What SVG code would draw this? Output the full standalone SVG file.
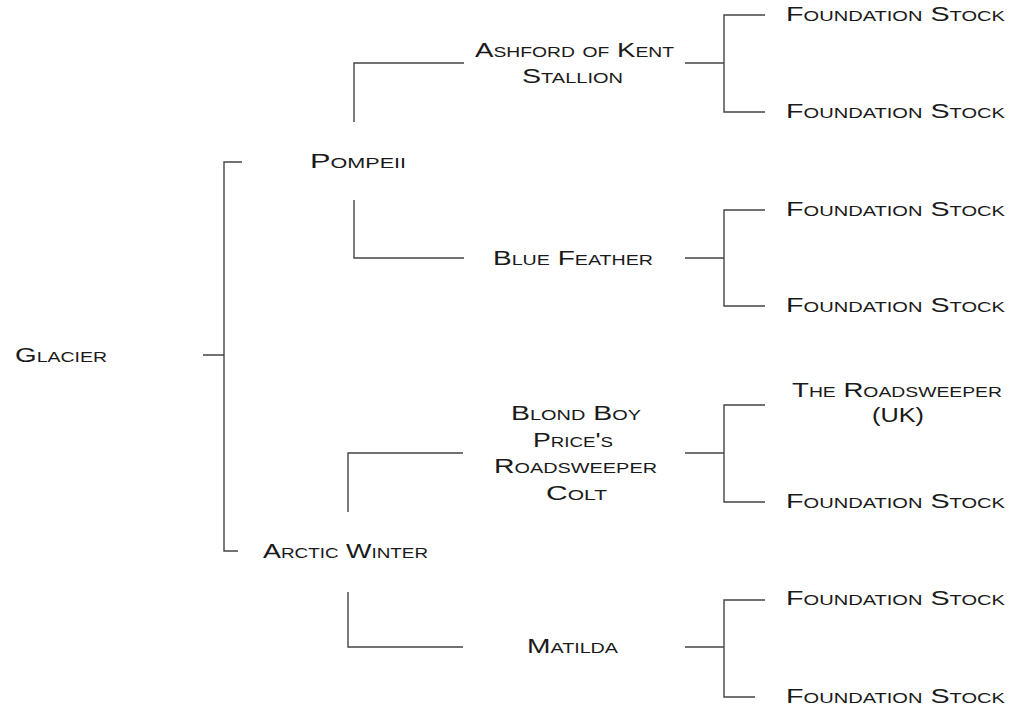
<svg xmlns="http://www.w3.org/2000/svg" width="1015" height="710" viewBox="0 0 1015 710">
<style>
.t{font-family:"Liberation Sans","DejaVu Sans",sans-serif;font-size:20px;font-variant:small-caps;fill:#1a1a1a}
.c{fill:none;stroke:#444;stroke-width:1.4}
</style>
<rect width="1015" height="710" fill="#fff"/>
<g id="connectors" class="c">
<path d="M203 355H224M242 162H224V551H238"/>
<path d="M464 63H354V122M354 200V258H464"/>
<path d="M463 453H348V512M348 592V647H463"/>
<path d="M685 63H724M765 15H724V112H765"/>
<path d="M685 258H724M765 210H724V306H765"/>
<path d="M685 453H724M765 405H724V502H765"/>
<path d="M685 647H724M765 600H724V697H755"/>
</g>
<g id="glacier"><text class="t" x="15" y="362" textLength="92" lengthAdjust="spacingAndGlyphs">Glacier</text></g>
<g id="pompeii"><text class="t" x="310" y="168" textLength="96" lengthAdjust="spacingAndGlyphs">Pompeii</text></g>
<g id="arctic-winter"><text class="t" x="263" y="558" textLength="165" lengthAdjust="spacingAndGlyphs">Arctic Winter</text></g>
<g id="ashford"><text class="t" x="475" y="57" textLength="199" lengthAdjust="spacingAndGlyphs">Ashford of Kent</text><text class="t" x="522" y="83" textLength="101" lengthAdjust="spacingAndGlyphs">Stallion</text></g>
<g id="blue-feather"><text class="t" x="493" y="265" textLength="160" lengthAdjust="spacingAndGlyphs">Blue Feather</text></g>
<g id="blond-boy"><text class="t" x="511" y="420" textLength="130" lengthAdjust="spacingAndGlyphs">Blond Boy</text><text class="t" x="533" y="447" textLength="80" lengthAdjust="spacingAndGlyphs">Price's</text><text class="t" x="494" y="473" textLength="163" lengthAdjust="spacingAndGlyphs">Roadsweeper</text><text class="t" x="546" y="500" textLength="61" lengthAdjust="spacingAndGlyphs">Colt</text></g>
<g id="matilda"><text class="t" x="527" y="653" textLength="91" lengthAdjust="spacingAndGlyphs">Matilda</text></g>
<g id="fs1"><text class="t" x="786" y="21" textLength="219" lengthAdjust="spacingAndGlyphs">Foundation Stock</text></g>
<g id="fs2"><text class="t" x="786" y="118" textLength="219" lengthAdjust="spacingAndGlyphs">Foundation Stock</text></g>
<g id="fs3"><text class="t" x="786" y="216" textLength="219" lengthAdjust="spacingAndGlyphs">Foundation Stock</text></g>
<g id="fs4"><text class="t" x="786" y="312" textLength="219" lengthAdjust="spacingAndGlyphs">Foundation Stock</text></g>
<g id="roadsweeper-uk"><text class="t" x="792" y="397" textLength="210" lengthAdjust="spacingAndGlyphs">The Roadsweeper</text><text class="t" x="872" y="422" textLength="52" lengthAdjust="spacingAndGlyphs">(UK)</text></g>
<g id="fs5"><text class="t" x="786" y="508" textLength="219" lengthAdjust="spacingAndGlyphs">Foundation Stock</text></g>
<g id="fs6"><text class="t" x="786" y="605" textLength="219" lengthAdjust="spacingAndGlyphs">Foundation Stock</text></g>
<g id="fs7"><text class="t" x="786" y="703" textLength="219" lengthAdjust="spacingAndGlyphs">Foundation Stock</text></g>
</svg>
